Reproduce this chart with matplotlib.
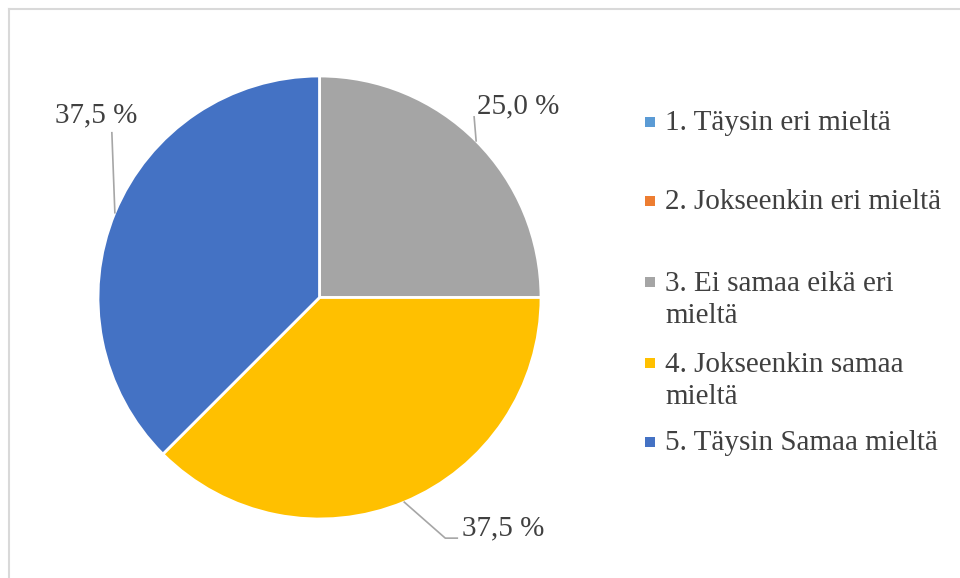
import textwrap
import numpy as np
import matplotlib
matplotlib.use('Agg')
import matplotlib.pyplot as plt
from matplotlib.lines import Line2D
from matplotlib.patches import Rectangle

# Data
categories = ['1. Täysin eri mieltä', '2. Jokseenkin eri mieltä',
              '3. Ei samaa eikä eri mieltä', '4. Jokseenkin samaa mieltä',
              '5. Täysin Samaa mieltä']
shares = [0.0, 0.0, 25.0, 37.5, 37.5]
colors = ['#5B9BD5', '#ED7D31', '#A5A5A5', '#FFC000', '#4472C4']

TEXT = '#404040'
LEADER = '#A6A6A6'
FONT = 'Liberation Serif'

W, H = 960, 578
fig = plt.figure(figsize=(W / 100, H / 100), dpi=100)

# pie axes: centre (319.5, 297.5) px, radius 221.5 px
R = 221.5
cx, cy = 319.5, 297.5
ax = fig.add_axes([(cx - R) / W, (H - cy - R) / H, 2 * R / W, 2 * R / H])
ax.pie(shares, colors=colors, startangle=90, counterclock=False,
       wedgeprops=dict(edgecolor='white', linewidth=2))
ax.set_xlim(-1, 1)
ax.set_ylim(-1, 1)
ax.set_aspect('equal')
ax.axis('off')

# data labels with leader lines (offsets in pixels from wedge edge midpoint)
leader_px = {2: [(0, 0), (-2, 24)],
             3: [(0, 0), (41, -36), (53, -36)],
             4: [(0, 0), (-3, 80)]}
text_px = {2: (1, 35, 'left'), 3: (58, -26, 'left'), 4: (-19, 97, 'center')}

total = sum(shares)
start = 90.0
for i, v in enumerate(shares):
    sweep = 360.0 * v / total
    mid = np.radians(start - sweep / 2)
    start -= sweep
    if v == 0:
        continue
    ex, ey = np.cos(mid), np.sin(mid)
    pts = leader_px[i]
    ax.add_line(Line2D([ex + p[0] / R for p in pts], [ey + p[1] / R for p in pts],
                       color=LEADER, lw=1.2, clip_on=False))
    dx, dy, ha = text_px[i]
    ax.text(ex + dx / R, ey + dy / R, f'{v:.1f} %'.replace('.', ','),
            ha=ha, va='center', fontsize=21, family=FONT, color=TEXT, clip_on=False)

# legend drawn manually so wrapped entries keep the marker on the first line
baselines = [130, 209, 290, 371, 450]
line_gap = 33
for lab, col, yb in zip(categories, colors, baselines):
    txt = textwrap.fill(lab, 24)
    nlines = txt.count('\n') + 1
    # baseline alignment in matplotlib follows the last line
    ylast = yb + (nlines - 1) * line_gap
    fig.text(665 / W, 1 - ylast / H, txt, ha='left', va='baseline',
             fontsize=21, family=FONT, color=TEXT, linespacing=1.28)
    fig.add_artist(Rectangle((645 / W, 1 - (yb - 3) / H), 10 / W, 10 / H,
                             transform=fig.transFigure, color=col, lw=0))

# chart border (only top and left visible in the crop)
fig.add_artist(Line2D([9 / W, 1], [1 - 9 / H, 1 - 9 / H], color='#D9D9D9', lw=1.5,
                      transform=fig.transFigure))
fig.add_artist(Line2D([9 / W, 9 / W], [0, 1 - 9 / H], color='#D9D9D9', lw=1.5,
                      transform=fig.transFigure))

fig.savefig('out.png', dpi=100)
